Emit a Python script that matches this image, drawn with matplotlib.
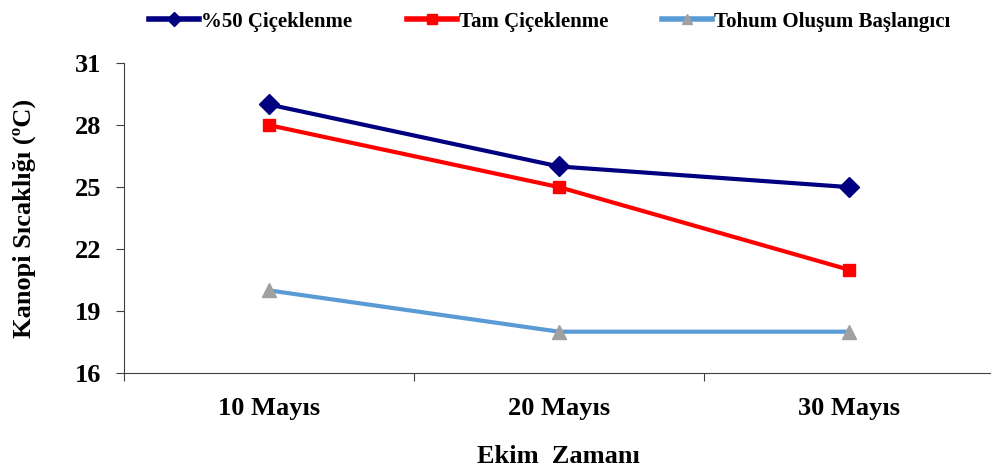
import numpy as np
from matplotlib import pyplot as plt

# data
categories = ["10 Mayıs", "20 Mayıs", "30 Mayıs"]
series_names = ["%50 Çiçeklenme", "Tam Çiçeklenme", "Tohum Oluşum Başlangıcı"]
cicek50 = [29, 26, 25]
tam_cicek = [28, 25, 21]
tohum = [20, 18, 18]
y_ticks = [16, 19, 22, 25, 28, 31]

plt.rcParams['font.family'] = ['Liberation Serif', 'DejaVu Serif']
plt.rcParams['font.weight'] = 'bold'

fig = plt.figure(figsize=(9.91, 4.68), dpi=100)
ax = fig.add_axes([0.125, 0.203, 0.878, 0.662])

x = np.arange(len(categories))
ax.plot(x, cicek50, color='#000080', lw=3, marker='D', ms=10, label=series_names[0])
ax.plot(x, tam_cicek, color='#FF0000', lw=3, marker='s', ms=9, label=series_names[1])
ax.plot(x, tohum, color='#5B9BD5', lw=3, marker='^', ms=10,
        mfc='#A0A0A0', mec='#A0A0A0', label=series_names[2])

ax.set_xlim(-0.5, 2.5)
ax.set_ylim(16, 31)
ax.set_yticks(y_ticks)
ax.set_yticklabels([str(v) for v in y_ticks], fontsize=19, fontweight='bold')

ax.set_xticks(x)
ax.set_xticklabels(categories, fontsize=19, fontweight='bold')
ax.tick_params(axis='x', which='major', length=0, pad=17)
ax.set_xticks([-0.5, 0.5, 1.5, 2.5], minor=True)
ax.tick_params(axis='x', which='minor', length=6, width=0.8, color='#404040')
ax.tick_params(axis='y', length=6, width=0.8, color='#404040', pad=10)

for s in ['top', 'right']:
    ax.spines[s].set_visible(False)
for s in ['left', 'bottom']:
    ax.spines[s].set_color('#404040')
    ax.spines[s].set_linewidth(0.8)

ax.set_ylabel("Kanopi Sıcaklığı (ºC)", fontsize=19, fontweight='bold', labelpad=28)
ax.set_xlabel("Ekim  Zamanı", fontsize=19, fontweight='bold', labelpad=18)

leg = fig.legend(loc='upper center', bbox_to_anchor=(0.555, 1.015), ncol=3, frameon=False,
                 handlelength=2.4, columnspacing=2.6, handletextpad=0.1,
                 prop={'weight': 'bold', 'size': 15})
for h in leg.legend_handles:
    h.set_markersize(7)
    h.set_linewidth(4)

fig.savefig("out.png", dpi=100)
